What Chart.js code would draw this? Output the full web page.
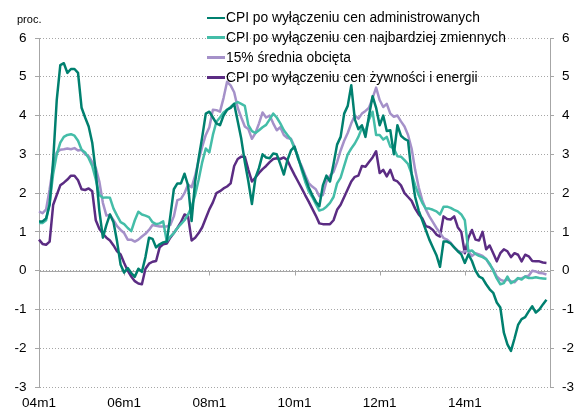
<!DOCTYPE html>
<html><head><meta charset="utf-8">
<script src="https://cdn.jsdelivr.net/npm/chart.js@4/dist/chart.umd.min.js"></script>
<style>
html,body{margin:0;padding:0;background:#fff;}
#wrap{position:relative;width:582px;height:415px;font-family:"Liberation Sans",Arial,sans-serif;color:#000;}
canvas{position:absolute;left:0;top:0;}
#unit{position:absolute;left:17px;top:13px;font-size:11px;}
#legend{position:absolute;left:207px;top:8px;font-size:13.8px;}
.row{height:19.8px;display:flex;align-items:center;white-space:nowrap;}
.sw{display:inline-block;width:18px;height:2.5px;margin-right:1px;}
</style></head><body>
<div id="wrap"><canvas id="c" width="582" height="415"></canvas>
<div id="unit">proc.</div><div id="legend"></div></div>
<script>
const seriesNames = [
  "CPI po wyłączeniu cen administrowanych",
  "CPI po wyłączeniu cen najbardziej zmiennych",
  "15% średnia obcięta",
  "CPI po wyłączeniu cen żywności i energii"
];
const seriesColors = ["#00806F", "#44BDA8", "#A591C9", "#5B2C83"];
const tickLabels = ["04m1", "06m1", "08m1", "10m1", "12m1", "14m1"];
const startYear = 2004, monthCount = 144;

const exAdministered = [
 1.27,1.27,1.35,1.7,2.85,4.4,5.3,5.35,5.1,5.2,
 5.2,5.1,4.2,3.95,3.72,3.3,2.55,1.55,0.85,1.18,
 1.45,1.25,0.75,0.15,-0.05,0.07,-0.06,-0.16,0.05,-0.03,
 0.35,0.85,0.82,0.6,0.68,0.73,0.75,1.4,2.1,2.25,
 2.25,2.5,2.2,1.28,2.3,2.9,3.45,4.05,4.1,3.95,
 3.8,3.75,4.0,4.15,4.2,4.3,3.85,3.4,2.8,2.3,
 1.72,2.4,2.65,3.0,2.92,2.9,3.02,3.0,2.75,2.48,
 2.85,3.1,3.2,2.9,2.65,2.4,2.15,1.95,1.78,1.66,
 2.2,2.45,2.3,2.75,3.25,3.45,4.05,4.25,4.78,3.9,
 3.65,3.75,3.45,4.0,4.5,4.2,3.75,4.0,3.6,3.62,
 3.0,3.75,3.48,3.4,3.35,2.5,1.9,1.55,1.3,1.05,
 0.8,0.6,0.4,0.1,0.75,0.75,0.7,0.6,0.5,0.42,
 0.2,0.42,0.25,0.0,-0.15,-0.2,-0.35,-0.48,-0.57,-0.82,
 -0.95,-1.6,-1.9,-2.07,-1.75,-1.4,-1.25,-1.2,-1.05,-0.92,
 -1.08,-1.0,-0.87,-0.75
];
const exVolatile = [
 1.23,1.23,1.3,1.75,2.5,3.0,3.3,3.45,3.5,3.52,
 3.48,3.35,3.12,3.05,2.9,2.7,2.35,1.95,1.88,1.89,
 1.88,1.6,1.42,1.25,1.2,1.1,1.02,1.3,1.52,1.45,
 1.42,1.38,1.25,1.2,1.22,1.27,0.75,0.88,0.97,1.1,
 1.2,1.3,1.45,1.65,1.95,2.35,2.8,3.15,3.05,3.5,
 3.84,3.95,4.08,4.15,4.22,4.3,4.35,4.3,4.25,3.75,
 3.6,3.55,3.62,3.7,3.76,3.9,4.05,3.95,3.8,3.62,
 3.5,3.38,3.15,2.95,2.6,2.3,2.05,1.9,1.72,1.55,
 1.58,1.65,1.75,1.9,2.25,2.4,2.7,3.0,3.15,3.28,
 3.45,3.68,3.6,3.9,4.1,3.5,3.5,3.38,3.45,3.2,
 3.15,2.95,2.94,2.85,2.75,2.5,2.2,1.95,1.75,1.6,
 1.6,1.57,1.53,1.45,1.65,1.65,1.62,1.57,1.53,1.45,
 1.3,0.5,0.52,0.43,0.38,0.35,0.3,0.18,0.0,-0.2,
 -0.35,-0.32,-0.15,-0.32,-0.27,-0.19,-0.23,-0.15,-0.19,-0.19,
 -0.17,-0.19,-0.2,-0.21
];
const trimmedMean = [
 1.53,1.48,1.58,2.1,2.7,3.05,3.12,3.13,3.15,3.13,
 3.16,3.1,3.12,3.0,2.95,2.8,2.65,2.3,1.75,1.42,
 1.44,1.3,1.15,1.05,0.97,0.8,0.8,0.75,0.8,0.88,
 0.95,1.05,1.18,1.16,1.14,1.14,1.14,1.18,1.4,1.82,
 1.85,2.0,2.22,2.15,2.45,2.85,3.2,3.5,3.7,4.15,
 4.14,4.1,4.45,4.87,4.78,4.6,4.2,3.95,3.72,3.65,
 3.4,3.55,3.8,4.08,3.95,4.0,3.8,3.62,3.7,3.5,
 3.42,3.4,3.2,2.9,2.7,2.47,2.26,2.17,2.1,1.92,
 1.95,2.3,2.45,2.55,2.8,3.1,3.35,3.55,3.8,4.0,
 3.92,4.05,4.12,4.2,4.45,4.72,4.4,4.22,4.3,4.05,
 3.97,4.0,3.85,3.72,3.5,3.15,2.6,2.15,1.82,1.58,
 1.4,1.25,1.1,0.97,0.84,0.8,0.72,0.6,0.52,0.47,
 0.5,0.5,0.38,0.45,0.42,0.38,0.3,0.15,0.03,-0.15,
 -0.23,-0.27,-0.23,-0.27,-0.3,-0.2,-0.2,-0.15,-0.13,0.0,
 -0.02,-0.06,-0.07,-0.1
];
const exFoodEnergy = [
 0.8,0.69,0.67,0.75,1.7,1.95,2.2,2.27,2.35,2.45,
 2.45,2.33,2.1,2.08,2.12,2.05,1.3,1.08,0.95,0.85,
 0.78,0.65,0.5,0.42,0.2,0.0,-0.15,-0.27,-0.33,-0.35,
 0.05,0.18,0.23,0.25,0.6,0.68,0.7,0.85,0.97,1.1,
 1.25,1.45,1.4,0.78,0.85,0.97,1.12,1.35,1.58,1.76,
 2.0,2.05,2.12,2.17,2.25,2.7,2.88,2.94,2.94,2.6,
 2.3,2.4,2.52,2.62,2.7,2.8,2.88,2.9,2.88,2.92,
 2.85,2.65,2.47,2.3,2.13,1.95,1.78,1.6,1.42,1.22,
 1.2,1.2,1.2,1.3,1.57,1.7,1.9,2.1,2.3,2.42,
 2.45,2.7,2.68,2.8,2.92,3.08,2.52,2.6,2.43,2.6,
 2.34,2.3,2.2,2.0,1.9,1.8,1.6,1.45,1.35,1.15,
 1.12,1.05,0.93,0.88,1.4,1.33,1.32,1.4,1.12,1.0,
 0.45,0.85,1.05,0.8,0.78,1.0,0.55,0.65,0.45,0.24,
 0.45,0.55,0.5,0.35,0.45,0.41,0.24,0.41,0.37,0.25,
 0.24,0.24,0.21,0.2
];
const seriesData = [exAdministered, exVolatile, trimmedMean, exFoodEnergy];

// month labels (one extra slot so the axis ends at 16m1)
const monthLabels = [];
for (let i = 0; i <= monthCount; i++) {
  const y = startYear + Math.floor(i / 12), m = (i % 12) + 1;
  monthLabels.push(String(y % 100).padStart(2, "0") + "m" + m);
}

const GRID = "#a6a6a6";
const zeroLine = {
  id: "zeroLine",
  beforeDatasetsDraw(chart) {
    const {ctx, chartArea, scales} = chart;
    const y0 = Math.round(scales.y.getPixelForValue(0)) + 0.5;
    ctx.save();
    ctx.strokeStyle = GRID; ctx.lineWidth = 1; ctx.setLineDash([]);
    ctx.beginPath();
    ctx.moveTo(chartArea.left, y0); ctx.lineTo(chartArea.right, y0);
    for (let i = 24; i < monthCount; i += 24) {
      const x = Math.round(scales.x.getPixelForValue(i)) + 0.5;
      ctx.moveTo(x, y0); ctx.lineTo(x, y0 + 4);
    }
    ctx.stroke();
    ctx.restore();
  }
};

const font = {family: "'Liberation Sans', Arial, sans-serif", size: 13.5};
new Chart(document.getElementById("c"), {
  type: "line",
  data: {
    labels: monthLabels,
    datasets: seriesNames.map((n, k) => ({
      label: n, data: seriesData[k], borderColor: seriesColors[k],
      backgroundColor: seriesColors[k], borderWidth: 2.5, pointRadius: 0,
      tension: 0, fill: false, borderJoinStyle: "round"
    }))
  },
  options: {
    responsive: false, animation: false,
    layout: {padding: {top: 38, left: 0, right: 0, bottom: 0}},
    plugins: {legend: {display: false}, tooltip: {enabled: false}},
    scales: {
      x: {
        type: "category", offset: false,
        grid: {display: false, drawTicks: false}, border: {display: false},
        ticks: {
          autoSkip: false, maxRotation: 0, padding: 8, color: "#000", font,
          callback: (v, i) => (i % 24 === 0 && i < monthCount) ? tickLabels[i / 24] : ""
        },
        afterFit: s => { s.height = 28; }
      },
      y: {
        position: "left", min: -3, max: 6,
        ticks: {stepSize: 1, color: "#000", font, padding: 8.5},
        grid: {color: GRID, lineWidth: 1, tickLength: 4, tickColor: GRID},
        border: {display: true, color: GRID, width: 1, dash: [1, 2]},
        afterFit: s => { s.width = 39; }
      },
      y2: {
        position: "right", min: -3, max: 6,
        ticks: {stepSize: 1, color: "#000", font, padding: 8},
        grid: {drawOnChartArea: false, tickLength: 4, tickColor: GRID, color: GRID},
        border: {display: true, color: GRID, width: 1},
        afterFit: s => { s.width = 32; }
      }
    }
  },
  plugins: [zeroLine]
});

const leg = document.getElementById("legend");
seriesNames.forEach((n, k) => {
  const r = document.createElement("div"); r.className = "row";
  const s = document.createElement("span"); s.className = "sw"; s.style.background = seriesColors[k];
  r.appendChild(s); r.appendChild(document.createTextNode(n)); leg.appendChild(r);
});
</script>
</body></html>
